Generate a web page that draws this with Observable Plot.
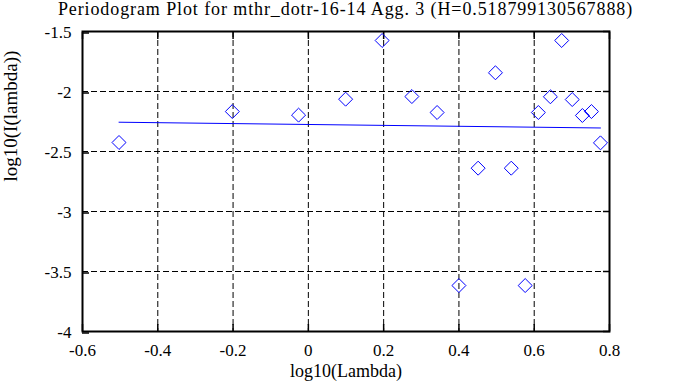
<!DOCTYPE html>
<html><head><meta charset="utf-8">
<script src="https://cdn.jsdelivr.net/npm/d3@7"></script>
<script src="https://cdn.jsdelivr.net/npm/@observablehq/plot@0.6"></script>
<style>
body{margin:0;background:#fff;}
#title{font-family:"Liberation Serif",serif;font-size:18px;letter-spacing:0.9px;height:18px;line-height:18px;text-align:center;width:678px;padding-left:13px;box-sizing:border-box;white-space:nowrap;color:#000;overflow:visible;position:relative;z-index:1;}
#chart svg, #chart svg text, #chart svg g{font-family:"Liberation Serif",serif !important;}
</style></head><body>
<div id="title"></div>
<div id="chart"></div>
<script>
const title = "Periodogram Plot for mthr_dotr-16-14 Agg. 3 (H=0.518799130567888)";
const xLabel = "log10(Lambda)";
const yLabel = "log10(I(lambda))";
const logLambda = [-0.503, -0.202, -0.026, 0.099, 0.196, 0.275, 0.342, 0.400, 0.451, 0.497, 0.539, 0.576, 0.611, 0.643, 0.673, 0.701, 0.728, 0.752, 0.776];
const logI = [-2.425, -2.167, -2.197, -2.064, -1.575, -2.042, -2.175, -3.617, -2.639, -1.844, -2.639, -3.617, -2.175, -2.044, -1.575, -2.067, -2.200, -2.167, -2.428];
const fitX = [-0.503, 0.776];
const fitY = [-2.256, -2.304];
const xTicks = [-0.6, -0.4, -0.2, 0, 0.2, 0.4, 0.6, 0.8];
const yTicks = [-4, -3.5, -3, -2.5, -2, -1.5];

document.getElementById("title").textContent = title;
const fmt = d => (d < 0 ? "-" : "") + Math.abs(d);
const points = logLambda.map((x, i) => ({x, y: logI[i]}));
const fit = fitX.map((x, i) => ({x, y: fitY[i]}));
const plot = Plot.plot({
  width: 678, height: 369,
  marginTop: 13, marginLeft: 82, marginRight: 69, marginBottom: 56,
  x: {domain: [-0.6, 0.8]},
  y: {domain: [-4, -1.5]},
  style: "font-family: 'Liberation Serif', serif; font-size: 18px; color: black; background: white; overflow: visible;",
  marks: [
    Plot.gridX(xTicks, {stroke: "black", strokeOpacity: 1, strokeDasharray: "6,3"}),
    Plot.gridY(yTicks, {stroke: "black", strokeOpacity: 1, strokeDasharray: "6,3"}),
    Plot.axisX({ticks: xTicks, tickSize: -7, tickPadding: 19, tickFormat: fmt, label: null, strokeWidth: 1.5, fontSize: 17, fontFamily: "Liberation Serif"}),
    Plot.axisX({anchor: "top", ticks: xTicks, tickSize: -7, tickFormat: () => "", label: null, strokeWidth: 1.5}),
    Plot.axisY({ticks: yTicks, tickSize: -7, tickPadding: 18, dy: 1.5, tickFormat: fmt, label: null, strokeWidth: 1.5, fontSize: 17, fontFamily: "Liberation Serif"}),
    Plot.axisY({anchor: "right", ticks: yTicks, tickSize: -7, tickFormat: () => "", label: null, strokeWidth: 1.5}),
    Plot.frame({stroke: "black", strokeWidth: 2}),
    Plot.line(fit, {x: "x", y: "y", stroke: "blue", strokeWidth: 1}),
    Plot.dot(points, {x: "x", y: "y", symbol: "diamond2", r: 6.3, stroke: "blue", fill: "none", strokeWidth: 1}),
    Plot.text([xLabel], {text: d => d, frameAnchor: "bottom", dy: 45, fontSize: 18, fontFamily: "Liberation Serif"}),
    Plot.text([yLabel], {text: d => d, frameAnchor: "left", dx: -72, rotate: -90, fontSize: 19, fontFamily: "Liberation Serif"})
  ]
});
document.getElementById("chart").appendChild(plot);
</script>
</body></html>
